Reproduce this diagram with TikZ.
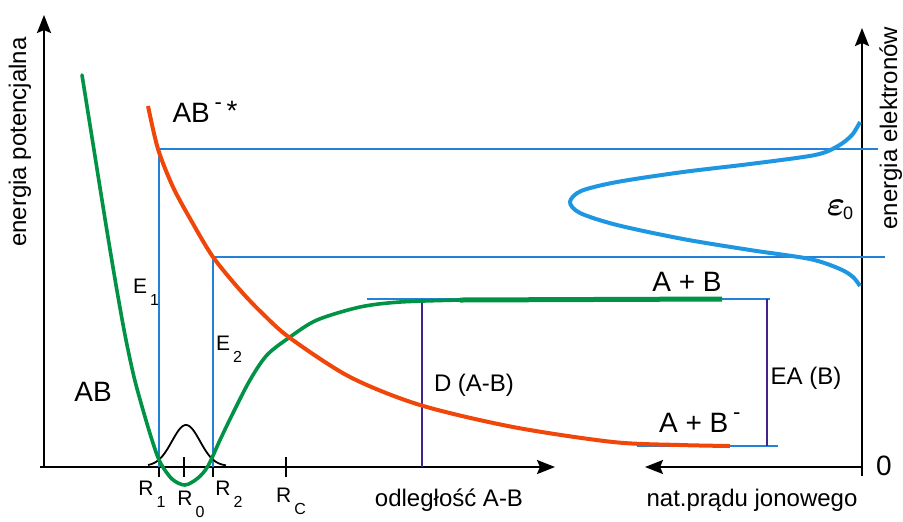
\documentclass[tikz,border=0pt]{standalone}
\usepackage{fontspec}
\usepackage{amsmath}
\setmainfont{Liberation Sans}
\usetikzlibrary{arrows.meta}
\definecolor{potgreen}{RGB}{0,146,69}
\definecolor{potred}{RGB}{240,70,10}
\definecolor{elblue}{RGB}{30,150,225}
\definecolor{guideblue}{RGB}{35,130,215}
\definecolor{dimviolet}{RGB}{70,35,140}
\newcommand{\lowsub}[2]{#1\kern1.5pt\raisebox{-6pt}{\fontsize{8}{9}\selectfont #2}}
\newcommand{\upmark}[1]{\raisebox{6.5pt}{\fontsize{11}{12}\selectfont #1}}
\begin{document}
\begin{tikzpicture}[x=0.5pt,y=-0.5pt,
    axis/.style={line width=1.2pt,-{Stealth[length=9pt,width=7pt,inset=1.5pt]}},
    guide/.style={guideblue,line width=0.75pt},
    span/.style={dimviolet,line width=0.7pt},
    lab/.style={font=\fontsize{10.5}{12}\selectfont},
    mid/.style={font=\fontsize{12}{14}\selectfont},
    big/.style={font=\fontsize{14}{16}\selectfont},
    title/.style={font=\fontsize{12}{14}\selectfont}]
    \useasboundingbox (0,0) rectangle (903,521);

    % axes
    \coordinate (O) at (44,467);
    \coordinate (xend) at (555,467);
    \coordinate (yend) at (44,15);
    \coordinate (P) at (862,467);
    \draw[axis] (40,467) -- (xend);
    \draw[axis] (44,468) -- (yend);
    \draw[axis] (862,476) -- (862,28);
    \draw[axis] (P) -- (645,467);
    \node[title, rotate=90, anchor=base] (epot) at (26,142) {energia potencjalna};
    \node[title, rotate=90, anchor=base] (eel) at (897,128) {energia elektronów};
    \node[title] (dist) at (449,500) {odległość A-B};
    \node[title] (curr) at (752,500) {nat.prądu jonowego};
    \node[big] (zero) at (884,466) {0};

    % guide lines
    \coordinate (e1) at (159,149);
    \coordinate (e2) at (213,257);
    \draw[guide] (159,467) -- (e1) -- (878,149);
    \draw[guide] (213,467) -- (e2) -- (885,257);
    \draw[guide] (367,299) -- (770,299);
    \draw[guide] (637,446) -- (778,446);
    \draw[span] (422,299) -- (422,467);
    \draw[span] (767,299) -- (767,446);

    % ticks
    \foreach \t in {159,213} \draw[line width=0.7pt] (\t,467) -- (\t,477);
    \foreach \t in {184,286} \draw[line width=0.7pt] (\t,457) -- (\t,477);

    % vibrational distribution
    \draw[line width=0.9pt, domain=148:226, samples=60]
        plot (\x, {466-41*exp(-((\x-186)/14)^2/2)});

    % AB
    \draw[potgreen, line width=1.8pt, line cap=round] plot[smooth, tension=0.5] coordinates {
        (82,75) (94,150) (106,225) (116,285) (125,335) (134,377) (143,410)
        (152,440) (160,462) (172,479) (185,485) (198,478) (208,466) (220,440)
        (233,413) (250,380) (267,355) (290,337) (317,320) (360,307) (400,302)
        (460,300)};
    \draw[potgreen, line width=2.5pt] (460,300) -- (722,299);

    % AB-*
    \draw[potred, line width=2pt] plot[smooth, tension=0.5] coordinates {
        (148,106) (158,149) (173,187) (192,222) (213,257) (240,290) (262,313)
        (290,338) (350,377) (420,405) (513,427) (613,442) (680,445) (730,446)};

    % electron energy distribution
    \draw[elblue, line width=2pt] plot[smooth, tension=0.5] coordinates {
        (860,122) (852,135) (838,146) (815,155) (750,164) (683,172) (617,182)
        (581,191) (570,202) (580,213) (617,225) (683,239) (750,250) (810,259)
        (840,269) (853,277) (860,286)};

    % labels
    \node[big] (abl) at (93,392) {AB};
    \node[big] (abx) at (205,112) {AB\,\upmark{-}\,\raisebox{1pt}{*}};
    \node[big] (ab0) at (687,282) {A + B};
    \node[big, anchor=base west] (abm) at (652,432) {A + B\,\upmark{-}};
    \node[mid] (dab) at (474,385) {D (A-B)};
    \node[mid] (eab) at (806,378) {EA (B)};
    \node[lab] (e1l) at (146,292) {\lowsub{E}{1}};
    \node[lab] (e2l) at (229,349) {\lowsub{E}{2}};
    \node[lab] (r1) at (152,494) {\lowsub{R}{1}};
    \node[lab] (r0) at (191,504) {\lowsub{R}{0}};
    \node[lab] (r2) at (229,494) {\lowsub{R}{2}};
    \node[lab] (rc) at (291,501) {\lowsub{R}{C}};
    \node (eps) at (840,210) {\fontsize{19}{20}\selectfont$\boldsymbol{\varepsilon}$\kern-1pt\raisebox{-2pt}{\fontsize{9}{10}\selectfont 0}};
\end{tikzpicture}
\end{document}
